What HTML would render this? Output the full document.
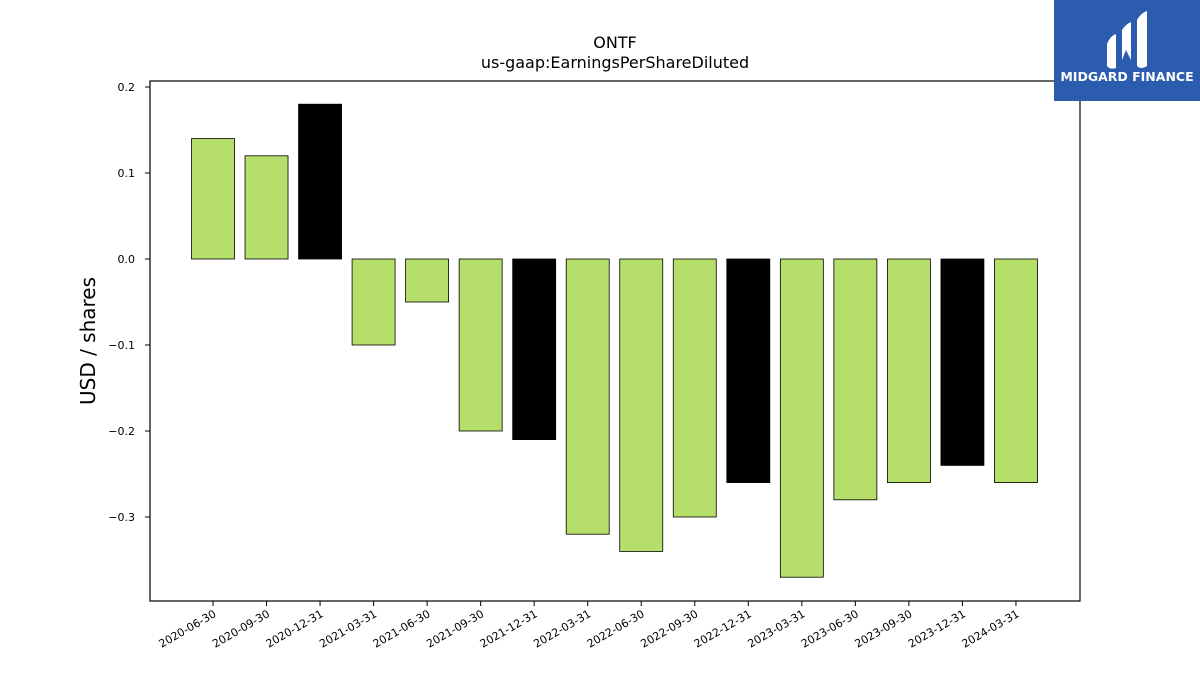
<!DOCTYPE html>
<html><head><meta charset="utf-8"><style>
body{margin:0;background:#fff;width:1200px;height:675px;overflow:hidden;font-family:"DejaVu Sans","Liberation Sans",sans-serif}
</style></head><body>
<svg id="chart" width="1200" height="675" xmlns="http://www.w3.org/2000/svg">
<text x="615" y="48" text-anchor="middle" font-size="16">ONTF</text>
<text x="615" y="68" text-anchor="middle" font-size="16">us-gaap:EarningsPerShareDiluted</text>
<text transform="translate(95,341) rotate(-90)" text-anchor="middle" font-size="20">USD / shares</text>
<g id="bars"></g><g id="yticks"></g><g id="xticks"></g>
<rect x="150" y="81" width="930" height="520" fill="none" stroke="#000" stroke-width="1.2"/>
<g>
<rect x="1054" y="0" width="146" height="101" fill="#2b5cad"/>
<path d="M1107 44 Q1110 36 1116 34 L1116 68 Q1110 70 1107 66 Z" fill="#fff"/>
<path d="M1122 30 Q1126 24 1131 22 L1131 60 L1126 50 L1122 60 Z" fill="#fff"/>
<path d="M1137 20 Q1141 13 1147 11 L1147 66 Q1141 70 1137 66 Z" fill="#fff"/>
<text x="1127" y="81" text-anchor="middle" font-size="12.5" font-weight="bold" fill="#fff">MIDGARD FINANCE</text>
</g>
</svg>
<script>
const categories=["2020-06-30","2020-09-30","2020-12-31","2021-03-31","2021-06-30","2021-09-30","2021-12-31","2022-03-31","2022-06-30","2022-09-30","2022-12-31","2023-03-31","2023-06-30","2023-09-30","2023-12-31","2024-03-31"];
const values=[0.14,0.12,0.18,-0.1,-0.05,-0.2,-0.21,-0.32,-0.34,-0.3,-0.26,-0.37,-0.28,-0.26,-0.24,-0.26];
const yTicks=[0.2,0.1,0.0,-0.1,-0.2,-0.3];
const yTickLabels=["0.2","0.1","0.0","\u22120.1","\u22120.2","\u22120.3"];
const NS="http://www.w3.org/2000/svg";
function y(v){return 259-v*860;}
function x(i){return 213+i*53.53;}
function mk(t,a,p){const e=document.createElementNS(NS,t);for(const k in a)e.setAttribute(k,a[k]);p.appendChild(e);return e;}
const bars=document.getElementById('bars'),yt=document.getElementById('yticks'),xt=document.getElementById('xticks');
values.forEach((v,i)=>{
 const annual=categories[i].endsWith("12-31");
 const r=mk('rect',{x:x(i)-21.5,y:Math.min(y(v),y(0)),width:43,height:Math.abs(y(v)-y(0)),fill:annual?'#000':'#b5de6b',stroke:'#000','stroke-width':0.8},bars);
 
 
});
yTicks.forEach((t,i)=>{
 const l=mk('line',{x1:145,x2:150,y1:y(t),y2:y(t),stroke:'#000'},yt);
 
 
 const tx=mk('text',{x:135,y:y(t)+4,'text-anchor':'end','font-size':11},yt);
 tx.textContent=yTickLabels[i];
 
 
});
categories.forEach((c,i)=>{
 const l=mk('line',{x1:x(i),x2:x(i),y1:601,y2:606,stroke:'#000'},xt);
 
 
 const tx=mk('text',{transform:`translate(${x(i)+4},${616}) rotate(-30)`,'text-anchor':'end','font-size':11},xt);
 tx.textContent=c;
 
 
});
</script>
</body></html>
